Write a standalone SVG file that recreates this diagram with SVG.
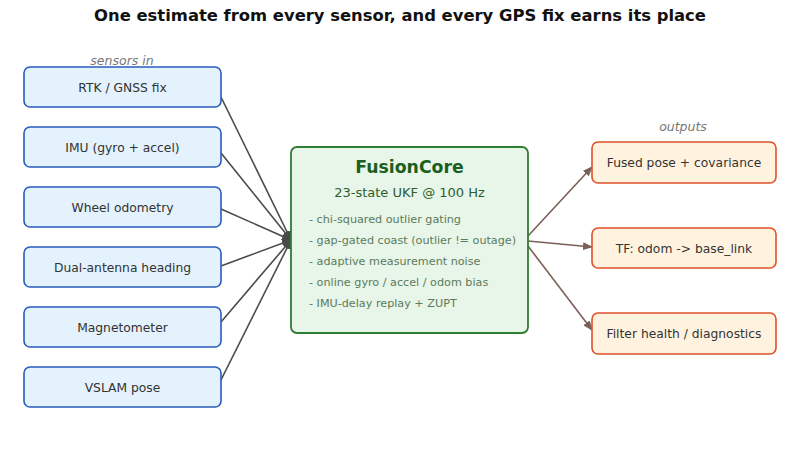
<svg xmlns="http://www.w3.org/2000/svg" width="800" height="450" viewBox="0 0 800 450">
<defs>
<style>
text{font-family:"DejaVu Sans",sans-serif}
.title{font-size:16.4px;font-weight:bold;fill:#111}
.cap{font-size:12.5px;font-style:italic;fill:#777}
.in rect{fill:#e3f2fd;stroke:#2a5cbf;stroke-width:1.6}
.out rect{fill:#fff3e0;stroke:#e0502a;stroke-width:1.6}
.lbl{font-size:12.3px;fill:#333;text-anchor:middle}
.core rect{fill:#e8f5e9;stroke:#2e7d32;stroke-width:1.8}
.ct{font-size:17.3px;font-weight:bold;fill:#1b5e20;text-anchor:middle}
.cs{font-size:13px;fill:#2e5e2e;text-anchor:middle}
.cb{font-size:11.2px;fill:#5b7b5b}
.ein{stroke:#4a4a4a;stroke-width:1.6;fill:none;marker-end:url(#ah)}
.eout{stroke:#7d5f58;stroke-width:1.6;fill:none;marker-end:url(#ah2)}
</style>
<marker id="ah" markerWidth="10" markerHeight="8" refX="9" refY="4" orient="auto" markerUnits="userSpaceOnUse"><path d="M0,0 L10,4 L0,8 Z" fill="#4a4a4a"/></marker>
<marker id="ah2" markerWidth="10" markerHeight="8" refX="9" refY="4" orient="auto" markerUnits="userSpaceOnUse"><path d="M0,0 L10,4 L0,8 Z" fill="#7d5f58"/></marker>
</defs>
<rect width="800" height="450" fill="#fff"/>
<text class="title" x="400" y="21" text-anchor="middle">One estimate from every sensor, and every GPS fix earns its place</text>
<text class="cap" x="122" y="65" text-anchor="middle">sensors in</text>
<text class="cap" x="683" y="131" text-anchor="middle">outputs</text>
<g id="connectors">
<line class="ein" x1="221" y1="97" x2="291" y2="240"/>
<line class="ein" x1="221" y1="153" x2="291" y2="240"/>
<line class="ein" x1="221" y1="209" x2="291" y2="240"/>
<line class="ein" x1="221" y1="266" x2="291" y2="240"/>
<line class="ein" x1="221" y1="322" x2="291" y2="240"/>
<line class="ein" x1="221" y1="380" x2="291" y2="240"/>
<line class="eout" x1="528" y1="236" x2="592" y2="167"/>
<line class="eout" x1="528" y1="241" x2="592" y2="247"/>
<line class="eout" x1="528" y1="246" x2="592" y2="330"/>
</g>
<g id="n-rtk" class="in"><rect x="24" y="67" width="197" height="40" rx="6"/><text class="lbl" x="122.5" y="91.5">RTK / GNSS fix</text></g>
<g id="n-imu" class="in"><rect x="24" y="127" width="197" height="40" rx="6"/><text class="lbl" x="122.5" y="151.5">IMU (gyro + accel)</text></g>
<g id="n-wheel" class="in"><rect x="24" y="187" width="197" height="40" rx="6"/><text class="lbl" x="122.5" y="211.5">Wheel odometry</text></g>
<g id="n-dual" class="in"><rect x="24" y="247" width="197" height="40" rx="6"/><text class="lbl" x="122.5" y="271.5">Dual-antenna heading</text></g>
<g id="n-mag" class="in"><rect x="24" y="307" width="197" height="40" rx="6"/><text class="lbl" x="122.5" y="331.5">Magnetometer</text></g>
<g id="n-vslam" class="in"><rect x="24" y="367" width="197" height="40" rx="6"/><text class="lbl" x="122.5" y="391.5">VSLAM pose</text></g>
<g id="n-core" class="core">
<rect x="291" y="147" width="237" height="186" rx="6"/>
<text class="ct" x="409.5" y="173">FusionCore</text>
<text class="cs" x="409.5" y="197">23-state UKF @ 100 Hz</text>
<text class="cb" x="309" y="223">- chi-squared outlier gating</text>
<text class="cb" x="309" y="244">- gap-gated coast (outlier != outage)</text>
<text class="cb" x="309" y="265">- adaptive measurement noise</text>
<text class="cb" x="309" y="286">- online gyro / accel / odom bias</text>
<text class="cb" x="309" y="307">- IMU-delay replay + ZUPT</text>
</g>
<g id="n-pose" class="out"><rect x="592" y="142" width="184" height="41" rx="6"/><text class="lbl" x="684" y="167">Fused pose + covariance</text></g>
<g id="n-tf" class="out"><rect x="592" y="228" width="184" height="40" rx="6"/><text class="lbl" x="684" y="252.5">TF: odom -&gt; base_link</text></g>
<g id="n-health" class="out"><rect x="592" y="313" width="184" height="41" rx="6"/><text class="lbl" x="684" y="338">Filter health / diagnostics</text></g>
</svg>
